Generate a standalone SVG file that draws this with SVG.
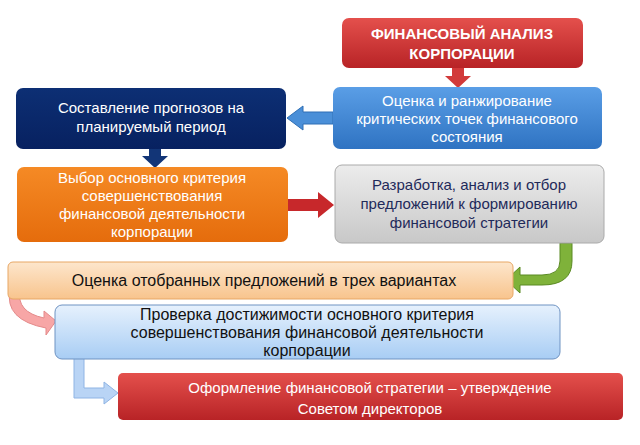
<svg xmlns="http://www.w3.org/2000/svg" width="640" height="445" viewBox="0 0 640 445">
<defs>
<linearGradient id="gRed" x1="0" y1="0" x2="0" y2="1"><stop offset="0" stop-color="#e4504c"/><stop offset="1" stop-color="#b82326"/></linearGradient>
<linearGradient id="gBlue" x1="0" y1="0" x2="0" y2="1"><stop offset="0" stop-color="#5a9ee6"/><stop offset="1" stop-color="#2f73c2"/></linearGradient>
<linearGradient id="gNavy" x1="0" y1="0" x2="0" y2="1"><stop offset="0" stop-color="#0d2f74"/><stop offset="1" stop-color="#072160"/></linearGradient>
<linearGradient id="gOr" x1="0" y1="0" x2="0" y2="1"><stop offset="0" stop-color="#f58a25"/><stop offset="1" stop-color="#e56c0c"/></linearGradient>
<linearGradient id="gGray" x1="0" y1="0" x2="0" y2="1"><stop offset="0" stop-color="#ececec"/><stop offset="1" stop-color="#c8c8c8"/></linearGradient>
<linearGradient id="gPeach" x1="0" y1="0" x2="0" y2="1"><stop offset="0" stop-color="#fde6cc"/><stop offset="1" stop-color="#f8c48d"/></linearGradient>
<linearGradient id="gLB" x1="0" y1="0" x2="0" y2="1"><stop offset="0" stop-color="#e6f1fd"/><stop offset="1" stop-color="#a8cdf4"/></linearGradient>
</defs>
<style>
text{font-family:"Liberation Sans",Arial,sans-serif;font-size:15px;text-anchor:middle}
.w{fill:#fff}.k{fill:#111}.n{fill:#1f2a5a}
.big{font-size:16px}
</style>
<g id="connectors">
<path d="M452 68h12v8h7l-13 12-13-12h7z" fill="#d23a3a"/>
<path d="M333 112h-30v-6l-16 12 16 12v-6h30z" fill="#4a8fd8" stroke="#2f6fb5"/>
<path d="M149 149h12v7h7l-13 12-13-12h7z" fill="#123577"/>
<path d="M288 199h30v-7l16 13-16 13v-7h-30z" fill="#c7282b"/>
<path d="M560 243h12v18q0 24-30 24h-22v8l-14-13 14-13v8h22q18 0 18-14z" fill="#7fb23a" stroke="#5a8a22"/>
<path d="M10 290q-6 30 36 38v7l10-14-12-10v7q-28-6-24-28z" fill="#f7a6a6" stroke="#e48a8a"/>
<path d="M74 358h10v30h20v-6l14 11-14 11v-6h-30z" fill="#b9d4f5" stroke="#8fb4e4"/>
</g>
<g id="n1"><rect x="342" y="18" width="241" height="50" rx="7" fill="url(#gRed)"/>
<text class="w" font-weight="bold" x="462" y="39">ФИНАНСОВЫЙ АНАЛИЗ</text><text class="w" font-weight="bold" x="462" y="59">КОРПОРАЦИИ</text></g>
<g id="n2"><rect x="333" y="87" width="269" height="62" rx="7" fill="url(#gBlue)"/>
<text class="w" x="467" y="106">Оценка и ранжирование</text><text class="w" x="467" y="124">критических точек финансового</text><text class="w" x="467" y="142">состояния</text></g>
<g id="n3"><rect x="16" y="88" width="270" height="61" rx="7" fill="url(#gNavy)"/>
<text class="w" x="151" y="113">Составление прогнозов на</text><text class="w" x="151" y="132">планируемый период</text></g>
<g id="n4"><rect x="17" y="167" width="271" height="75" rx="7" fill="url(#gOr)"/>
<text class="w" x="152" y="183">Выбор основного критерия</text><text class="w" x="152" y="201">совершенствования</text><text class="w" x="152" y="219">финансовой деятельности</text><text class="w" x="152" y="237">корпорации</text></g>
<g id="n5"><rect x="335" y="165" width="269" height="78" rx="7" fill="url(#gGray)" stroke="#aaa"/>
<text class="n" x="469" y="190">Разработка, анализ и отбор</text><text class="n" x="469" y="209">предложений к формированию</text><text class="n" x="469" y="228">финансовой стратегии</text></g>
<g id="n6"><rect x="8" y="262" width="505" height="37" rx="5" fill="url(#gPeach)" stroke="#e8a765"/>
<text class="k big" x="264" y="286">Оценка отобранных предложений в трех вариантах</text></g>
<g id="n7"><rect x="55" y="305" width="505" height="54" rx="7" fill="url(#gLB)" stroke="#6f93c2"/>
<text class="k big" x="307" y="320">Проверка достижимости основного критерия</text><text class="k big" x="307" y="338">совершенствования финансовой деятельности</text><text class="k big" x="307" y="356">корпорации</text></g>
<g id="n8"><rect x="118" y="373" width="505" height="47" rx="5" fill="url(#gRed)"/>
<text class="w" x="370" y="393" font-size="17">Оформление финансовой стратегии – утверждение</text><text class="w" x="370" y="414" font-size="17">Советом директоров</text></g>
</svg>
